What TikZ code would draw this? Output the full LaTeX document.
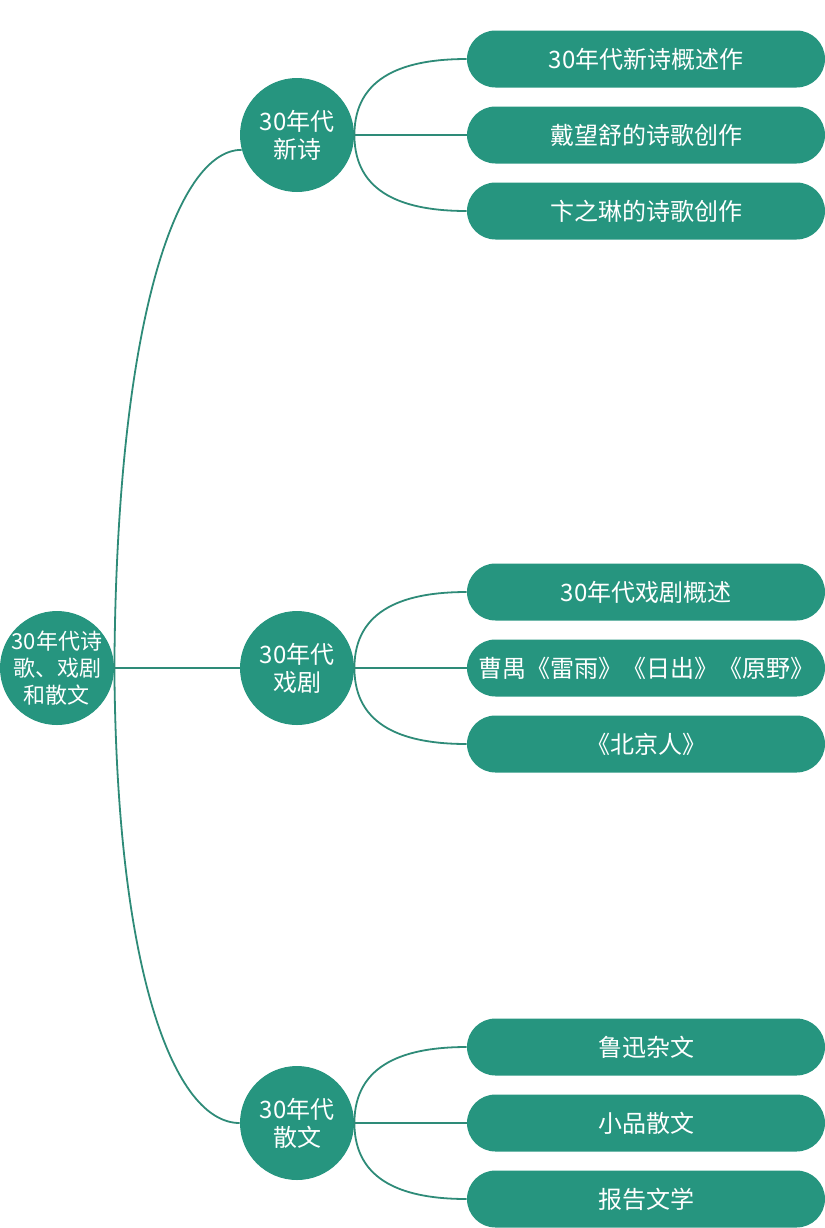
\documentclass[tikz,border=0pt]{standalone}
\usepackage{fontspec}
\setsansfont{Noto Sans CJK SC}
\usetikzlibrary{positioning}
\definecolor{topic}{HTML}{26957F}
\definecolor{branch}{HTML}{2E8B78}

\begin{document}
\begin{tikzpicture}[x=0.5pt,y=-0.5pt,font=\sffamily\fontsize{12}{14}\selectfont]
    \tikzstyle{circ}=[circle, fill=topic, text=white, minimum size=57pt, inner sep=0pt, align=center, on grid]
    \tikzstyle{item}=[fill=topic, text=white, rounded corners=14.25pt, minimum width=179pt, minimum height=28.5pt, inner sep=0pt, node distance=38pt, on grid]
    \tikzstyle{link}=[draw=branch, line width=0.9pt]
    \useasboundingbox (0,0) rectangle (825,1228);
    \node[circ,inner sep=-5pt,font=\sffamily\fontsize{11}{13.5}\selectfont] (root) at (57,668) {30年代诗\\歌、戏剧\\和散文};
    \node[circ,above right=266.5pt and 120pt of root] (poem) {30年代\\新诗};
    \node[circ,right=120pt of root] (drama) {30年代\\戏剧};
    \node[circ,below right=227.5pt and 120pt of root] (prose) {30年代\\散文};
    % poetry
    \node[item,right=174.5pt of poem] (poem2) {戴望舒的诗歌创作};
    \node[item,above of=poem2] (poem1) {30年代新诗概述作};
    \node[item,below of=poem2] (poem3) {卞之琳的诗歌创作};
    % drama
    \node[item,right=174.5pt of drama] (drama2) {曹禺《雷雨》《日出》《原野》};
    \node[item,above of=drama2] (drama1) {30年代戏剧概述};
    \node[item,below of=drama2] (drama3) {《北京人》};
    % prose
    \node[item,right=174.5pt of prose] (prose2) {小品散文};
    \node[item,above of=prose2] (prose1) {鲁迅杂文};
    \node[item,below of=prose2] (prose3) {报告文学};
    % trunk
    \draw[link] (root.east) .. controls +(2,-346) and +(-65,0) .. (poem.195);
    \draw[link] (root.east) to (drama.west);
    \draw[link] (root.east) .. controls +(2,306) and +(-65,0) .. (prose.west);
    % leaves
    \draw[link] (poem.east) .. controls +(0,-60) and +(-60,0) .. (poem1.west);
    \draw[link] (poem.east) to (poem2.west);
    \draw[link] (poem.east) .. controls +(0,60) and +(-60,0) .. (poem3.west);
    \draw[link] (drama.east) .. controls +(0,-60) and +(-60,0) .. (drama1.west);
    \draw[link] (drama.east) to (drama2.west);
    \draw[link] (drama.east) .. controls +(0,60) and +(-60,0) .. (drama3.west);
    \draw[link] (prose.east) .. controls +(0,-60) and +(-60,0) .. (prose1.west);
    \draw[link] (prose.east) to (prose2.west);
    \draw[link] (prose.east) .. controls +(0,60) and +(-60,0) .. (prose3.west);
\end{tikzpicture}
\end{document}
